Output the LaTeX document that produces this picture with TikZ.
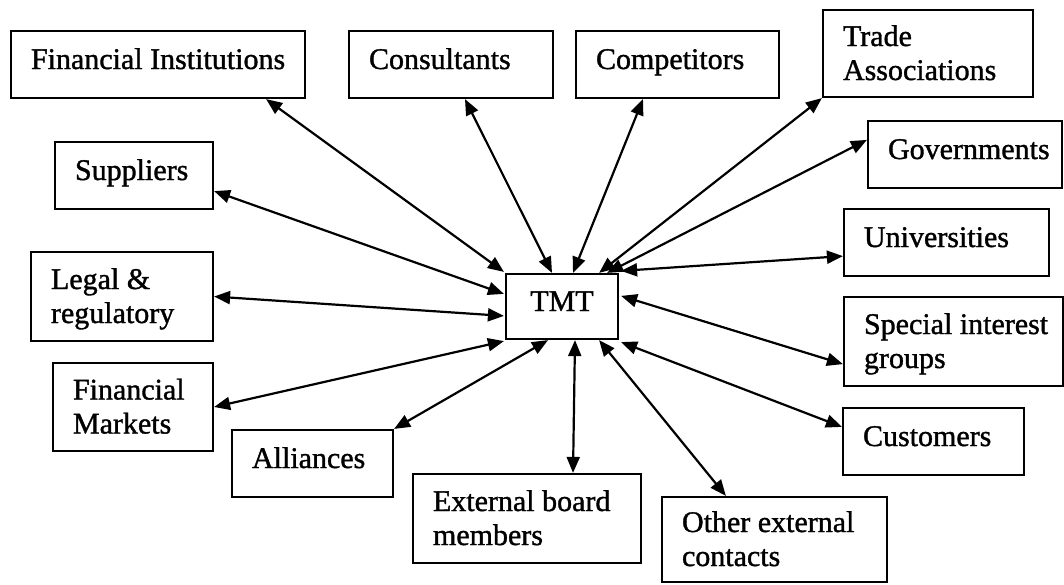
\documentclass[tikz,border=0pt]{standalone}
\usepackage{fontspec}
\setmainfont{Liberation Serif}[FakeBold=1.2]
\usetikzlibrary{arrows.meta}

\begin{document}
\begin{tikzpicture}[x=1pt, y=-1pt,
  box/.style={draw, line width=2.2pt, align=flush left, inner xsep=20pt, inner ysep=0pt,
    text height=21pt, font=\fontsize{30}{34}\selectfont},
  one/.style={text depth=12pt},
  two/.style={text depth=36pt},
  link/.style={line width=2.2pt,
    {Triangle[length=16pt,width=13pt]}-{Triangle[length=16pt,width=13pt]}}
]
\useasboundingbox (0,0) rectangle (1064,584);

% central node
\node[box, one, align=center, minimum width=112pt, text width=72pt, minimum height=65pt] (tmt) at (562,306.5) {TMT};

% surrounding stakeholders
\node[box, one, minimum width=294pt, text width=254pt, minimum height=67pt] (fi) at (158,64.5) {\mbox{Financial Institutions}};
\node[box, one, minimum width=204pt, text width=164pt, minimum height=67pt] (cons) at (451,64.5) {Consultants};
\node[box, one, minimum width=203pt, text width=163pt, minimum height=67pt] (comp) at (677.5,64.5) {Competitors};
\node[box, two, minimum width=210pt, text width=170pt, minimum height=87pt] (trade) at (928,53.5) {Trade\\Associations};
\node[box, one, minimum width=194pt, text width=154pt, minimum height=67pt] (gov) at (965,154.5) {\mbox{Governments}};
\node[box, one, minimum width=158pt, text width=118pt, minimum height=67pt] (sup) at (134,175.5) {Suppliers};
\node[box, two, minimum width=182pt, text width=142pt, minimum height=89pt] (legal) at (122,296.5) {Legal \&\\regulatory};
\node[box, two, minimum width=160pt, text width=120pt, minimum height=88pt] (fm) at (133,407) {Financial\\Markets};
\node[box, one, minimum width=161pt, text width=121pt, minimum height=67pt] (all) at (312.5,463.5) {Alliances};
\node[box, two, minimum width=228pt, text width=188pt, minimum height=89pt] (ext) at (527,518.5) {\mbox{External board}\\members};
\node[box, two, minimum width=225pt, text width=185pt, minimum height=85pt] (oth) at (774.5,539.5) {\mbox{Other external}\\contacts};
\node[box, one, minimum width=181pt, text width=141pt, minimum height=67pt] (cust) at (933.5,441.5) {Customers};
\node[box, one, minimum width=205pt, text width=165pt, minimum height=67pt] (uni) at (946.5,242.5) {Universities};
\node[box, two, minimum width=219pt, text width=179pt, minimum height=89pt] (sig) at (953.5,341.5) {\mbox{Special interest}\\groups};

% two-way links
\draw[link] ([xshift=-40pt]fi.south east) -- ([xshift=-1pt,yshift=1pt]tmt.north west);
\draw[link] ([xshift=14pt]cons.south) -- ([xshift=-10pt]tmt.north);
\draw[link] ([xshift=-34.5pt]comp.south) -- ([xshift=11pt]tmt.north);
\draw[link] (trade.south west) -- ([xshift=-20pt]tmt.north east);
\draw[link] ([yshift=-20pt]gov.north west) -- ([xshift=-12pt]tmt.north east);
\draw[link] ([yshift=21pt]uni.south west) -- ([xshift=2pt,yshift=2pt]tmt.north east);
\draw[link] ([yshift=23pt]sig.south west) -- ([xshift=2pt,yshift=-23pt]tmt.north east);
\draw[link] ([yshift=-20pt]cust.north west) -- ([xshift=2pt,yshift=-2pt]tmt.south east);
\draw[link] ([xshift=65pt]oth.north west) -- ([xshift=-20pt]tmt.south east);
\draw[link] ([xshift=46pt]ext.north) -- ([xshift=13pt]tmt.south);
\draw[link] (all.north east) -- ([xshift=-14pt]tmt.south);
\draw[link] (fm.east) -- ([xshift=-1pt,yshift=-1pt]tmt.south west);
\draw[link] (legal.east) -- ([xshift=-1pt,yshift=-43pt]tmt.north west);
\draw[link] ([yshift=19pt]sup.south east) -- ([xshift=-1pt,yshift=-21pt]tmt.north west);
\end{tikzpicture}
\end{document}
